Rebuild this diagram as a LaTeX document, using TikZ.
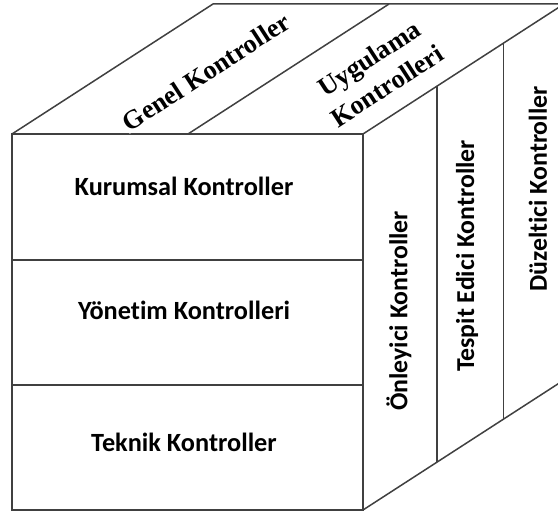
\documentclass[tikz,border=0pt]{standalone}
\usepackage{fontspec}
\usetikzlibrary{calc}
\setmainfont{Liberation Serif}
\newfontfamily\labelsans[Ligatures=NoCommon]{Carlito}
\begin{document}
\begin{tikzpicture}[x=1pt,y=-1pt,
  edge/.style={draw=black!75, line width=1.5pt},
  facelabel/.style={font=\labelsans\bfseries\fontsize{26.3}{30}\selectfont, text=black, inner sep=0pt},
  sidelabel/.style={font=\labelsans\bfseries\fontsize{25.8}{30}\selectfont, text=black, inner sep=0pt, rotate=90},
  toplabel/.style={font=\bfseries\fontsize{26.5}{33}\selectfont, text=black, rotate=33, align=center, inner sep=1pt}]
\useasboundingbox (0,0) rectangle (558,518);
\clip (0,0) rectangle (558,518);

% front face corners
\coordinate (ftl) at (12,134);
\coordinate (ftr) at (363,134);
\coordinate (fbr) at (363,510);
\coordinate (fbl) at (12,510);
% depth direction of the oblique projection
\coordinate (dep) at (201,-130);
\coordinate (btl) at ($(ftl)+(dep)$);
\coordinate (btr) at ($(ftr)+(dep)$);
\coordinate (bbr) at ($(fbr)+(dep)$);

% front face with its three rows
\draw[edge] (ftl) rectangle (fbr);
\draw[edge] (12,260) -- (363,260);
\draw[edge] (12,385) -- (363,385);

% top face with its two strips
\draw[edge] (ftl) -- (btl) -- (btr) -- (ftr);
\coordinate (tm) at (188,134);
\draw[edge] (tm) -- ($(tm)+(dep)$);

% right face with its three columns
\draw[edge] (fbr) -- (bbr) -- (btr);
\draw[edge] ($(ftr)!0.368!(btr)$) -- ($(fbr)!0.368!(bbr)$);
\draw[edge] ($(ftr)!0.70!(btr)$) -- ($(fbr)!0.70!(bbr)$);

% front face labels
\node[facelabel] (kurumsal) at (184,186) {Kurumsal Kontroller};
\node[facelabel] (yonetim) at (184,310) {Yönetim Kontrolleri};
\node[facelabel] (teknik) at (184,442) {Teknik Kontroller};

% right face labels
\node[sidelabel] (onleyici) at (399,311) {Önleyici Kontroller};
\node[sidelabel] (tespit) at (467,256) {Tespit Edici Kontroller};
\node[sidelabel] (duzeltici) at (538,189) {Düzeltici Kontroller};

% top face labels
\node[toplabel, fill=white] (genel) at (206,72) {Genel Kontroller};
\node[toplabel] (uygulama) at (378,72) {Uygulama\\Kontrolleri};
\end{tikzpicture}
\end{document}
